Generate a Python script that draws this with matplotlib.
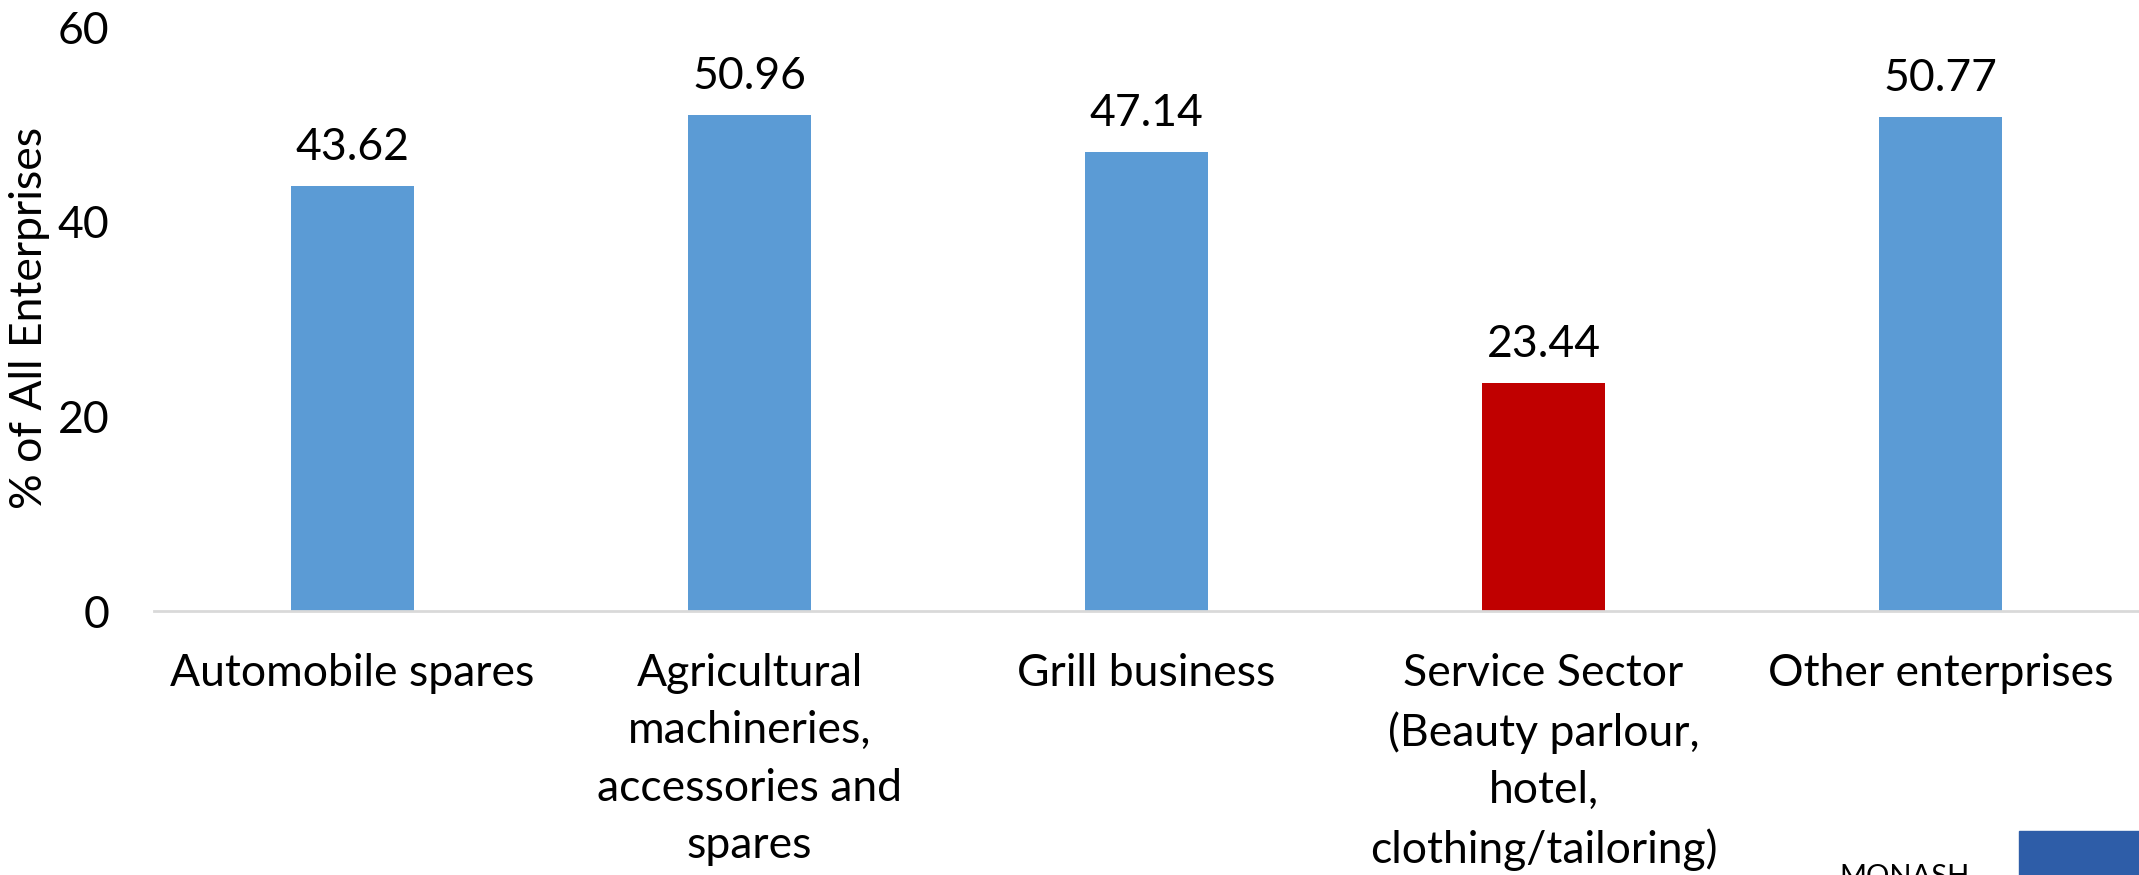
import matplotlib
matplotlib.use("Agg")
import matplotlib.pyplot as plt
from matplotlib.patches import Rectangle

categories = [
    "Automobile spares",
    "Agricultural\nmachineries,\naccessories and\nspares",
    "Grill business",
    "Service Sector\n(Beauty parlour,\nhotel,\nclothing/tailoring)",
    "Other enterprises",
]
values = [43.62, 50.96, 47.14, 23.44, 50.77]
colors = ["#5B9BD5", "#5B9BD5", "#5B9BD5", "#C00000", "#5B9BD5"]
yticks = [0, 20, 40, 60]

plt.rcParams['font.family'] = ['Lato', 'DejaVu Sans']

W, H = 2139, 875
fig = plt.figure(figsize=(W / 100, H / 100), dpi=100)
ax = fig.add_axes([154 / W, 1 - 611 / H, 1 - 154 / W, (611 - 27) / H])

x = list(range(len(categories)))
bars = ax.bar(x, values, width=0.31, color=colors, zorder=2)
ax.set_xlim(-0.5, len(categories) - 0.5)
ax.set_ylim(0, 60)
ax.set_yticks(yticks)
ax.set_xticks(x)
ax.set_xticklabels(categories, fontsize=32, linespacing=1.5, va='top')
ax.tick_params(axis='x', length=0, pad=30)
ax.tick_params(axis='y', length=0, pad=32, labelsize=32)

for s in ['top', 'right', 'left']:
    ax.spines[s].set_visible(False)
ax.spines['bottom'].set_color('#D9D9D9')
ax.spines['bottom'].set_linewidth(2)

for xi, v in zip(x, values):
    ax.annotate(f"{v:.2f}", (xi, v), xytext=(0, 13), textcoords='offset points',
                ha='center', va='bottom', fontsize=32)

fig.text(30 / W, 1 - 318 / H, "% of All Enterprises", rotation=90,
         ha='center', va='center', fontsize=32)

# partial logo at bottom right
fig.patches.append(Rectangle((2019 / W, 0), 1 - 2019 / W, (875 - 831) / H,
                             transform=fig.transFigure, color='#2E5DA8', zorder=5))
fig.text(1905 / W, 1 - 864 / H, "MONASH", ha='center', va='top', fontsize=21,
         color='black')

fig.savefig("out.png", dpi=100)
